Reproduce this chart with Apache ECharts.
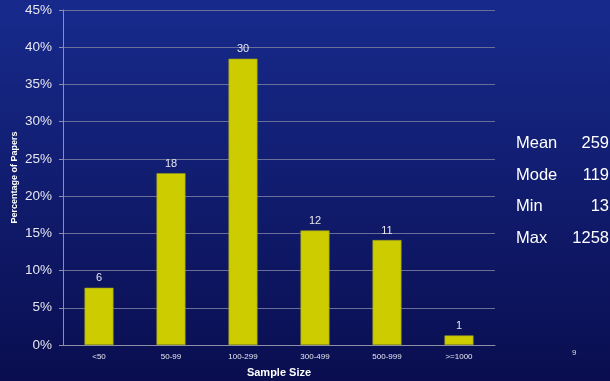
<!DOCTYPE html>
<html>
<head>
<meta charset="utf-8">
<script src="https://cdn.jsdelivr.net/npm/echarts@6/dist/echarts.min.js"></script>
<style>
html,body{margin:0;padding:0;}
#chart{width:610px;height:381px;}
</style>
</head>
<body>
<div id="chart"></div>
<script>
// Sample-size bins and number of papers in each
const categories = ['<50', '50-99', '100-299', '300-499', '500-999', '>=1000'];
const counts = [6, 18, 30, 12, 11, 1];
const yTicks = [0, 5, 10, 15, 20, 25, 30, 35, 40, 45];
// Summary statistics shown beside the chart
const statNames = ['Mean', 'Mode', 'Min', 'Max'];
const statValues = [259, 119, 13, 1258];

const total = counts.reduce((a, b) => a + b, 0);
const percents = counts.map(c => c / total * 100);

const font = '"Liberation Sans", Arial, sans-serif';
const chart = echarts.init(document.getElementById('chart'));

const statText = [];
statNames.forEach((n, i) => {
  const y = 144 + i * 31.5;
  statText.push({ type: 'text', left: 516, top: y - 9, style: { text: n, fill: '#ffffff', font: '16.5px ' + font } });
  statText.push({ type: 'text', right: 1, top: y - 9, style: { text: String(statValues[i]), fill: '#ffffff', font: '16.5px ' + font, align: 'right' } });
});
statText.push({ type: 'text', left: 572, top: 349, style: { text: '9', fill: '#dddddd', font: '8px ' + font } });

chart.setOption({
  backgroundColor: {
    type: 'linear', x: 0, y: 0, x2: 0, y2: 1,
    colorStops: [{ offset: 0, color: '#172a8c' }, { offset: 1, color: '#0a0e50' }]
  },
  animation: false,
  grid: { left: 63, right: 115, top: 10, bottom: 36, containLabel: false, outerBoundsMode: 'none' },
  xAxis: {
    type: 'category',
    data: categories,
    name: 'Sample Size',
    nameLocation: 'middle',
    nameGap: 22,
    nameTextStyle: { color: '#ffffff', fontWeight: 'bold', fontSize: 11, fontFamily: font },
    axisLine: { lineStyle: { color: '#8d8fa8' } },
    axisTick: { lineStyle: { color: '#8d8fa8' }, length: 4 },
    axisLabel: { color: '#e6e6ee', fontSize: 8, fontFamily: font, margin: 8 }
  },
  yAxis: {
    type: 'value',
    min: 0, max: 45, interval: 5,
    name: 'Percentage of Papers',
    nameLocation: 'middle',
    nameGap: 44,
    nameMoveOverlap: false,
    nameTextStyle: { color: '#ffffff', fontWeight: 'bold', fontSize: 9, fontFamily: font },
    axisLine: { show: true, lineStyle: { color: '#8d8fa8' } },
    axisTick: { show: true, length: 4, lineStyle: { color: '#8d8fa8' } },
    axisLabel: { color: '#e6e6ee', fontSize: 13.5, fontFamily: font, margin: 11,
      formatter: v => yTicks.includes(v) ? v + '%' : '' },
    splitLine: { lineStyle: { color: '#6a6f9a', width: 1 } }
  },
  series: [{
    type: 'bar',
    data: percents,
    barWidth: 29,
    itemStyle: { color: '#cccc00', borderColor: '#9a9a20', borderWidth: 0.6 },
    label: {
      show: true, position: 'top', distance: 4,
      color: '#e6e6ee', fontSize: 11, fontFamily: font,
      formatter: p => String(counts[p.dataIndex])
    }
  }],
  graphic: statText
});
</script>
</body>
</html>
